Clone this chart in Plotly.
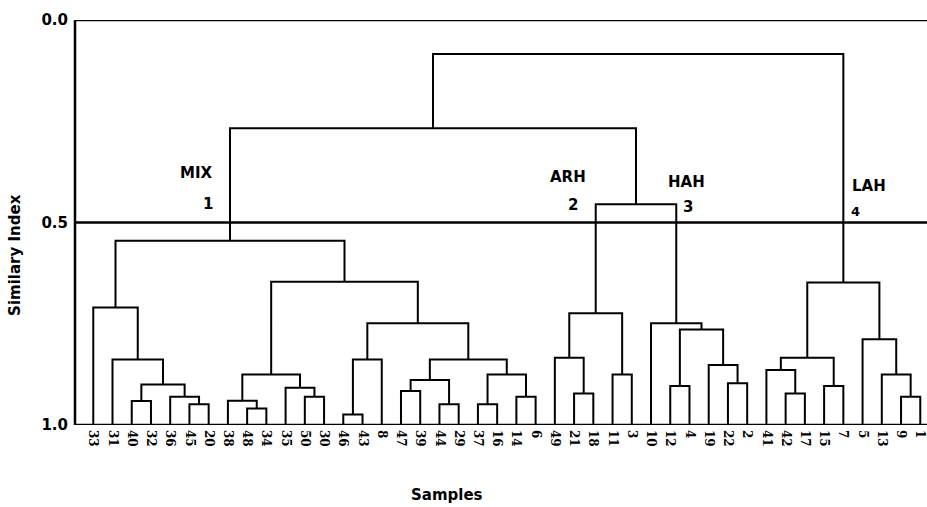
import plotly.graph_objects as go

# ---- data ----
leaf_labels = ["33", "31", "40", "32", "36", "45", "20", "38", "48", "34", "35", "50", "30",
               "46", "43", "8", "47", "39", "44", "29", "37", "16", "14", "6",
               "49", "21", "18", "11", "3",
               "10", "12", "4", "19", "22", "2",
               "41", "42", "17", "15", "7", "5", "13", "9", "1"]

merge_names = ["m1", "m2", "m3", "m4", "m5", "m6", "m7", "m8", "m9", "m10", "m11",
               "m12", "m13", "m14", "m15", "m16", "m17", "m18", "m19", "m20", "m21", "m22", "MIX",
               "a1", "a2", "a3", "ARH",
               "h1", "h2", "h3", "h4", "HAH", "ARH_HAH",
               "l1", "l2", "l3", "l4", "l5", "l6", "l7", "LAH",
               "top1", "root"]
merge_left = ["45", "36", "40", "m3", "31", "33", "48", "38", "50", "35", "m8",
              "46", "m12", "47", "44", "m14", "37", "14", "m17", "m16", "m13", "m11", "m6",
              "21", "49", "11", "a2",
              "12", "22", "19", "h1", "10", "ARH",
              "42", "41", "15", "l2", "9", "13", "5", "l4",
              "MIX", "top1"]
merge_right = ["20", "m1", "32", "m2", "m4", "m5", "34", "m7", "30", "m9", "m10",
               "43", "8", "39", "29", "m15", "16", "6", "m18", "m19", "m20", "m21", "m22",
               "18", "a1", "3", "a3",
               "4", "2", "h2", "h3", "h4", "HAH",
               "17", "l1", "7", "l3", "1", "l5", "l6", "l7",
               "ARH_HAH", "LAH"]
merge_height = [0.949, 0.930, 0.941, 0.900, 0.838, 0.710, 0.959, 0.940, 0.930, 0.908, 0.875,
                0.974, 0.838, 0.916, 0.949, 0.889, 0.949, 0.930, 0.875, 0.838, 0.749, 0.646, 0.545,
                0.922, 0.834, 0.875, 0.724,
                0.904, 0.897, 0.852, 0.764, 0.749, 0.455,
                0.922, 0.864, 0.904, 0.834, 0.930, 0.875, 0.788, 0.648,
                0.267, 0.084]

cut_level = 0.5
y_tick_vals = [0.0, 0.5, 1.0]
y_tick_text = ["0.0", "0.5", "1.0"]
cluster_names = ["MIX", "ARH", "HAH", "LAH"]
cluster_numbers = ["1", "2", "3", "4"]

# ---- build dendrogram segments ----
pos = {lab: (float(i), 1.0) for i, lab in enumerate(leaf_labels)}
xs, ys = [], []
for name, l, r, h in zip(merge_names, merge_left, merge_right, merge_height):
    xl, yl = pos[l]
    xr, yr = pos[r]
    xs += [xl, xl, xr, xr, None]
    ys += [yl, h, h, yr, None]
    pos[name] = ((xl + xr) / 2.0, h)

fig = go.Figure()
fig.add_trace(go.Scatter(x=xs, y=ys, mode="lines", line=dict(color="black", width=2),
                         hoverinfo="skip", showlegend=False, cliponaxis=False))

# frame lines: top (0.0), cut level, baseline (1.0), left spine
for yv in [0.0, cut_level, 1.0]:
    fig.add_shape(type="line", xref="paper", yref="y", x0=0, x1=1, y0=yv, y1=yv,
                  line=dict(color="black", width=2.5))
fig.add_shape(type="line", xref="paper", yref="y", x0=0, x1=0, y0=0, y1=1,
              line=dict(color="black", width=2.5))

bold = dict(family="DejaVu Sans", size=15, color="black", weight="bold")

# cluster labels
name_pos = [(6.33, 0.378, "right"), (24.66, 0.388, "center"), (30.82, 0.40, "center"), (40.36, 0.41, "center")]
num_pos = [(5.96, 0.454), (24.95, 0.457), (30.93, 0.462), (39.61, 0.472)]
for txt, (x, y, anc) in zip(cluster_names, name_pos):
    fig.add_annotation(x=x, y=y, text=txt, showarrow=False, xanchor=anc, yanchor="middle",
                       font=bold)
for i, (txt, (x, y)) in enumerate(zip(cluster_numbers, num_pos)):
    f = dict(bold)
    if i == 3:
        f["size"] = 13
    fig.add_annotation(x=x, y=y, text=txt, showarrow=False, xanchor="center", yanchor="middle",
                       font=f)

# axis titles as annotations
fig.add_annotation(xref="paper", yref="paper", x=-0.0704, y=0.42, text="Similary Index",
                   textangle=-90, showarrow=False, xanchor="center", yanchor="middle", font=bold)
fig.add_annotation(xref="paper", yref="paper", x=0.4366, y=-0.1728, text="Samples",
                   showarrow=False, xanchor="center", yanchor="middle", font=bold)

fig.update_layout(
    width=927, height=507,
    margin=dict(l=75, r=0, t=20, b=82),
    paper_bgcolor="white", plot_bgcolor="white",
    xaxis=dict(range=[-0.95, 43.35], tickmode="array", tickvals=list(range(len(leaf_labels))),
               ticktext=leaf_labels, tickangle=90, showgrid=False, zeroline=False,
               showline=False, ticks="", ticklabelstandoff=4, ticklabeloverflow="allow",
               tickfont=dict(family="DejaVu Serif", size=12, color="black", weight="bold")),
    yaxis=dict(range=[1.0, 0.0], tickmode="array", tickvals=y_tick_vals, ticktext=y_tick_text,
               showgrid=False, zeroline=False, showline=False, ticks="", ticklabelstandoff=6,
               tickfont=bold),
)

fig.write_html("out.html")
